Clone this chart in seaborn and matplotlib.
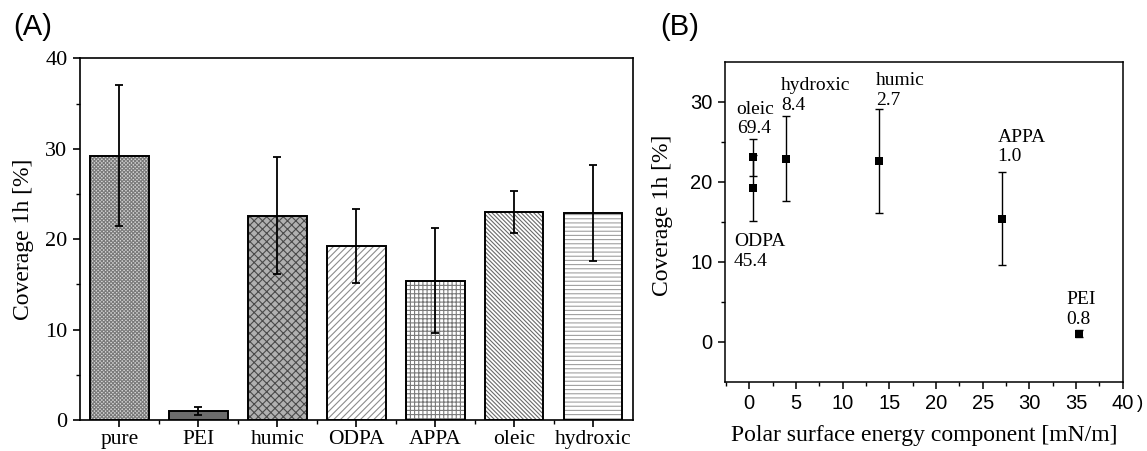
import numpy as np
import pandas as pd
import matplotlib
matplotlib.use('Agg')
import matplotlib.pyplot as plt
import seaborn as sns
from matplotlib.ticker import MultipleLocator, FixedLocator
from matplotlib.patches import Rectangle

# ---------------- data ----------------
categories = ['pure', 'PEI', 'humic', 'ODPA', 'APPA', 'oleic', 'hydroxic']
coverage = [29.2, 1.0, 22.6, 19.2, 15.4, 23.0, 22.9]
coverage_err = [7.8, 0.45, 6.5, 4.1, 5.8, 2.35, 5.3]

b_names = ['oleic', 'ODPA', 'hydroxic', 'humic', 'APPA', 'PEI']
b_polar = [0.45, 0.45, 3.95, 13.9, 27.1, 35.3]
b_coverage = [23.05, 19.2, 22.9, 22.65, 15.4, 1.0]
b_err = [2.35, 4.1, 5.3, 6.5, 5.8, 0.45]
b_values = ['69.4', '45.4', '8.4', '2.7', '1.0', '0.8']

# ---------------- style (layout only) ----------------
bar_styles = {
    'pure':     ('#d8d8d8', 'x' * 9, '#7a7a7a'),
    'PEI':      ('#6b6b6b', '',     '#6b6b6b'),
    'humic':    ('#b0b0b0', 'xxxx', '#4a4a4a'),
    'ODPA':     ('white',   '/' * 5, '#8c8c8c'),
    'APPA':     ('white',   '+' * 4, '#7a7a7a'),
    'oleic':    ('white',   '\\' * 8, '#6a6a6a'),
    'hydroxic': ('white',   '-' * 4, '#a0a0a0'),
}
label_pos = {
    'oleic': (-1.35, 25.55),
    'ODPA': (-1.64, 8.95),
    'hydroxic': (3.40, 28.55),
    'humic': (13.57, 29.15),
    'APPA': (26.57, 22.05),
    'PEI': (34.0, 1.75),
}

sns.set_theme(style='ticks')
plt.rcParams['font.family'] = ['Liberation Serif', 'DejaVu Serif']
plt.rcParams['hatch.linewidth'] = 0.8
plt.rcParams['text.color'] = 'black'
plt.rcParams['axes.labelcolor'] = 'black'

SERIF = 'Liberation Serif'
SANS = 'Liberation Sans'

W, H = 1147, 451
fig = plt.figure(figsize=(W / 100, H / 100), dpi=100)
axA = fig.add_axes([80 / W, 1 - 420 / H, 552.7 / W, 361.7 / H])
axB = fig.add_axes([725 / W, 1 - 381.5 / H, 397.7 / W, 319.5 / H])

# ---------------- panel A ----------------
dfA = pd.DataFrame({'cat': categories, 'cov': coverage})
sns.barplot(data=dfA, x='cat', y='cov', ax=axA, width=0.74, color='white',
            errorbar=None, saturation=1, linewidth=0)
for p, c in zip(axA.patches, categories):
    face, hatch, hcol = bar_styles[c]
    p.set_facecolor(face)
    p.set_edgecolor(hcol)
    p.set_hatch(hatch)
    p.set_linewidth(0)
    outline = Rectangle((p.get_x(), p.get_y()), p.get_width(), p.get_height(),
                        fill=False, edgecolor='black', linewidth=1.4, zorder=3)
    axA.add_patch(outline)

axA.errorbar(np.arange(len(categories)), coverage, yerr=coverage_err, fmt='none',
             ecolor='black', elinewidth=1.3, capsize=3.2, capthick=1.3, zorder=5)

axA.set_xlim(-0.5, 6.5)
axA.set_ylim(0, 40)
axA.yaxis.set_major_locator(MultipleLocator(10))
axA.yaxis.set_minor_locator(MultipleLocator(5))
axA.xaxis.set_minor_locator(FixedLocator(np.arange(0.5, 6.0, 1.0)))
axA.set_xlabel('')
axA.set_ylabel('Coverage 1h [%]', fontsize=17, family=SERIF, color='black')
axA.yaxis.set_label_coords(-0.083, 0.5)
for s in axA.spines.values():
    s.set_visible(True)
    s.set_linewidth(1.2)
    s.set_color('black')
axA.tick_params(axis='x', which='major', direction='out', length=5, width=1.2,
                colors='black', labelsize=15.5, top=False, pad=2.5)
axA.tick_params(axis='y', which='major', direction='out', length=5, width=1.2,
                colors='black', labelsize=16, right=False, pad=4)
axA.tick_params(which='minor', direction='out', length=3, width=1.0, colors='black',
                top=False, right=False)
for lab in axA.get_xticklabels() + axA.get_yticklabels():
    lab.set_family(SERIF)

# ---------------- panel B ----------------
dfB = pd.DataFrame({'name': b_names, 'polar': b_polar, 'cov': b_coverage})
axB.errorbar(b_polar, b_coverage, yerr=b_err, fmt='none', ecolor='black',
             elinewidth=1.0, capsize=3.2, capthick=1.0, zorder=4)
sns.scatterplot(data=dfB, x='polar', y='cov', ax=axB, marker='s', s=26,
                color='black', linewidth=0, zorder=5)
for n, v in zip(b_names, b_values):
    x, y = label_pos[n]
    axB.text(x, y, f'{n}\n{v}', ha='left', va='bottom', fontsize=14,
             family=SERIF, linespacing=1.2, color='black')

axB.set_xlim(-2.6, 40)
axB.set_ylim(-5, 35)
axB.xaxis.set_major_locator(MultipleLocator(5))
axB.xaxis.set_minor_locator(MultipleLocator(2.5))
axB.yaxis.set_major_locator(FixedLocator([0, 10, 20, 30]))
axB.yaxis.set_minor_locator(FixedLocator([5, 15, 25]))
axB.set_xlabel('Polar surface energy component [mN/m]', fontsize=17, family=SERIF,
               color='black')
axB.set_ylabel('Coverage 1h [%]', fontsize=17, family=SERIF, color='black')
axB.xaxis.set_label_coords(0.5, -0.137)
axB.yaxis.set_label_coords(-0.131, 0.52)
for s in axB.spines.values():
    s.set_visible(True)
    s.set_linewidth(1.1)
    s.set_color('black')
axB.tick_params(which='major', direction='out', length=5, width=1.1, colors='black',
                labelsize=14.5, top=False, right=False, pad=4)
axB.tick_params(which='minor', direction='out', length=3, width=1.0, colors='black',
                top=False, right=False)
for lab in axB.get_xticklabels() + axB.get_yticklabels():
    lab.set_family(SANS)

# ---------------- panel letters ----------------
fig.text(13 / W, 1 - 13 / H, '(A)', fontsize=21, family=SANS, va='top', ha='left',
         color='black')
fig.text(660 / W, 1 - 13 / H, '(B)', fontsize=21, family=SANS, va='top', ha='left',
         color='black')
fig.text(1137 / W, 1 - 404 / H, ')', fontsize=13.5, family=SANS, va='center',
         ha='left', color='black')

fig.savefig('out.png', dpi=100)
